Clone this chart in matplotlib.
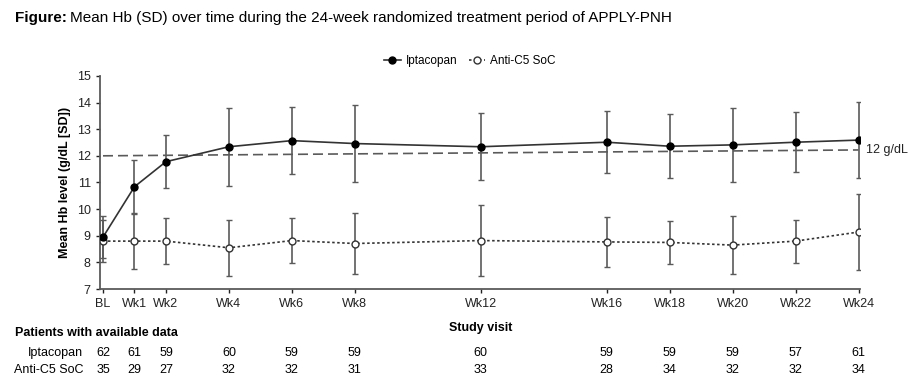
import matplotlib.pyplot as plt
import matplotlib.transforms as mtransforms
import numpy as np

plt.rcParams['font.family'] = ['Liberation Sans', 'DejaVu Sans']

# visit labels and weeks
visits = ["BL", "Wk1", "Wk2", "Wk4", "Wk6", "Wk8", "Wk12", "Wk16", "Wk18", "Wk20", "Wk22", "Wk24"]
weeks = [0, 1, 2, 4, 6, 8, 12, 16, 18, 20, 22, 24]

# mean Hb and SD
ipta_mean = [8.95, 10.84, 11.78, 12.34, 12.57, 12.46, 12.34, 12.51, 12.36, 12.41, 12.51, 12.59]
ipta_sd = [0.78, 1.02, 1.00, 1.47, 1.27, 1.45, 1.26, 1.17, 1.21, 1.40, 1.13, 1.42]
soc_mean = [8.80, 8.80, 8.80, 8.55, 8.82, 8.71, 8.82, 8.77, 8.75, 8.65, 8.80, 9.14]
soc_sd = [0.80, 1.06, 0.86, 1.05, 0.85, 1.15, 1.32, 0.93, 0.79, 1.10, 0.81, 1.42]

# patients with available data
ipta_n = [62, 61, 59, 60, 59, 59, 60, 59, 59, 59, 57, 61]
soc_n = [35, 29, 27, 32, 32, 31, 33, 28, 34, 32, 32, 34]

# 12 g/dL reference line (start, end as drawn)
ref_weeks = [0, 24]
ref_vals = [12.0, 12.22]

fig = plt.figure()
fig.set_size_inches(9.16, 3.87)
ax = fig.add_axes([0.109, 0.253, 0.830, 0.551])

gray = "#5a5a5a"
ax.plot(ref_weeks, ref_vals, color=gray, lw=1.2, dashes=(6, 3), zorder=1)

ax.errorbar(weeks, soc_mean, yerr=soc_sd, fmt='none', ecolor=gray, elinewidth=1.2,
            capsize=2.5, capthick=1.0, zorder=2)
ax.errorbar(weeks, ipta_mean, yerr=ipta_sd, fmt='none', ecolor=gray, elinewidth=1.2,
            capsize=2.5, capthick=1.0, zorder=2)

ax.plot(weeks, soc_mean, linestyle=(0, (1.5, 1.5)), color="#333333", lw=1.2,
        marker='o', markersize=5, markerfacecolor='white', markeredgecolor="#333333",
        markeredgewidth=1.0, label="Anti-C5 SoC", zorder=3)
ax.plot(weeks, ipta_mean, '-', color="#333333", lw=1.2,
        marker='o', markersize=5, markerfacecolor='black', markeredgecolor='black',
        label="Iptacopan", zorder=4)

ax.text(24.25, ref_vals[1], "12 g/dL", fontsize=9, va='center', ha='left', color="#222222")

ax.set_xlim(-0.1, 24.05)
ax.set_ylim(7, 15)
ax.set_yticks(range(7, 16))
ax.set_xticks(weeks)
ax.set_xticklabels(visits)
ax.tick_params(labelsize=9, colors="#222222", length=3, width=1.0)
for side in ["top", "right"]:
    ax.spines[side].set_visible(False)
for side in ["left", "bottom"]:
    ax.spines[side].set_color(gray)
    ax.spines[side].set_linewidth(1.3)
ax.spines["left"].set_position(("data", -0.1))

ax.set_ylabel("Mean Hb level (g/dL [SD])", fontsize=9, fontweight='bold', labelpad=4)

handles, labels = ax.get_legend_handles_labels()
leg = fig.legend(handles[::-1], labels[::-1], loc='center', bbox_to_anchor=(0.513, 0.842),
                 ncol=2, frameon=False, fontsize=8.5, handlelength=1.4, columnspacing=1.0,
                 handletextpad=0.4)

t1 = fig.text(0.016, 0.953, "Figure:", fontsize=11, fontweight='bold', va='center')
fig.canvas.draw()
bb = t1.get_window_extent().transformed(fig.transFigure.inverted())
fig.text(bb.x1 + 0.004, 0.953,
         "Mean Hb (SD) over time during the 24-week randomized treatment period of APPLY-PNH",
         fontsize=11, va='center')

fig.text(0.525, 0.153, "Study visit", fontsize=9, fontweight='bold', ha='center', va='center')
fig.text(0.016, 0.140, "Patients with available data", fontsize=9, fontweight='bold', va='center')

trans = mtransforms.blended_transform_factory(ax.transData, fig.transFigure)
row1, row2 = 0.088, 0.045
fig.text(0.091, row1, "Iptacopan", fontsize=9, ha='right', va='center')
fig.text(0.091, row2, "Anti-C5 SoC", fontsize=9, ha='right', va='center')
for w, a, b in zip(weeks, ipta_n, soc_n):
    ax.text(w, row1, str(a), transform=trans, fontsize=9, ha='center', va='center')
    ax.text(w, row2, str(b), transform=trans, fontsize=9, ha='center', va='center')

fig.savefig("out.png", dpi=100)
